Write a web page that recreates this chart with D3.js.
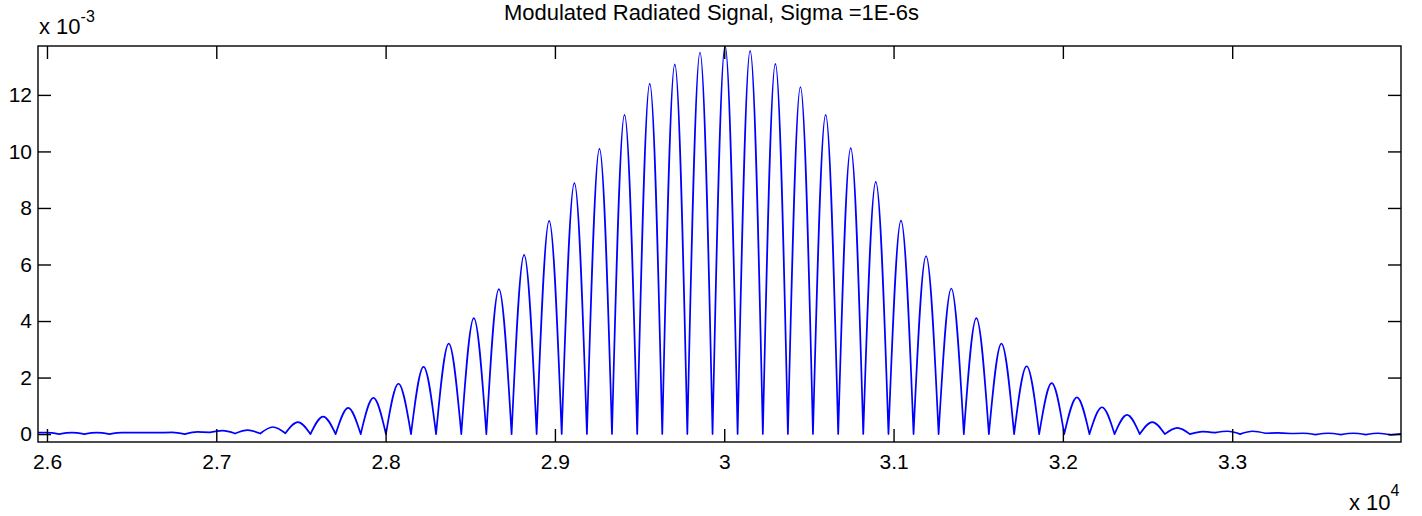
<!DOCTYPE html>
<html>
<head>
<meta charset="utf-8">
<script src="https://d3js.org/d3.v7.min.js"></script>
<style>
body { margin: 0; background: #fff; }
svg text { font-family: "Liberation Sans", Arial, sans-serif; fill: #000; }
</style>
</head>
<body>
<div id="chart"></div>
<script>
var title = 'Modulated Radiated Signal, Sigma =1E-6s';

var xTicks = [26000, 27000, 28000, 29000, 30000, 31000, 32000, 33000];
var xTickLabels = ['2.6', '2.7', '2.8', '2.9', '3', '3.1', '3.2', '3.3'];
var yTicks = [0, 2, 4, 6, 8, 10, 12];
var yTickLabels = ['0', '2', '4', '6', '8', '10', '12'];

// valleys between lobes (x, value in 1e-3)
var dipX = [25947, 26072, 26221, 26369, 26518, 26666, 26814, 26963, 27111, 27260, 27408,
	27556, 27705, 27853, 28002, 28150, 28298, 28447, 28595, 28744, 28892, 29040, 29189,
	29337, 29486, 29634, 29782, 29931, 30079, 30228, 30376, 30524, 30673, 30821, 30970,
	31118, 31266, 31415, 31563, 31712, 31860, 32008, 32157, 32305, 32454, 32602, 32750,
	32899, 33047, 33196, 33344, 33492, 33641, 33789, 33938];
var dipY = [0.05, 0, 0, 0, 0.05, 0.05, 0, 0.06, 0.02, 0.02, 0.03,
	0, 0, 0, 0, 0, 0, 0, 0, 0, 0, 0, 0,
	0, 0, 0, 0, 0, 0, 0, 0, 0, 0, 0, 0,
	0, 0, 0, 0, 0, 0, 0, 0, 0, 0, 0, 0,
	0.05, 0, 0.03, 0.02, -0.02, -0.02, -0.02, -0.03];

// lobe tops (x, value in 1e-3)
var peakX = [25998, 26147, 26295, 26444, 26592, 26740, 26889, 27037, 27186, 27334, 27482,
	27631, 27779, 27928, 28076, 28224, 28373, 28521, 28669, 28818, 28966, 29115, 29263,
	29411, 29560, 29708, 29857, 30005, 30153, 30302, 30450, 30599, 30747, 30895, 31044,
	31192, 31341, 31489, 31637, 31786, 31934, 32083, 32231, 32379, 32528, 32676, 32825,
	32973, 33121, 33270, 33418, 33567, 33715, 33863, 33997];
var peakY = [0.05, 0.05, 0.05, 0.05, 0.05, 0.06, 0.08, 0.12, 0.14, 0.25, 0.42,
	0.62, 0.93, 1.28, 1.78, 2.38, 3.2, 4.1, 5.13, 6.34, 7.54, 8.88, 10.09,
	11.29, 12.4, 13.08, 13.5, 13.73, 13.56, 13.1, 12.28, 11.29, 10.12, 8.92, 7.55,
	6.3, 5.15, 4.1, 3.2, 2.4, 1.8, 1.3, 0.95, 0.68, 0.42, 0.22, 0.09,
	0.1, 0.1, 0.04, 0.03, 0.03, 0.03, 0.03, 0.01];

var w = 1422;
var h = 516;
var axL = 38, axR = 1401, axT = 46, axB = 442;
var tick = 13;

var svg = d3.select('#chart').append('svg').attr('width', w).attr('height', h);

var x = d3.scaleLinear().domain([25947, 33997]).range([axL, axR]);
var y = d3.scaleLinear().domain([-0.28, 13.73]).range([axB, axT]);

svg.append('defs').append('clipPath').attr('id', 'plot')
	.append('rect').attr('x', axL).attr('y', axT).attr('width', axR - axL).attr('height', axB - axT);

// signal, one arch per lobe
var lobe = d3.line()
	.x(function(d) { return x(d[0]); })
	.y(function(d) { return y(d[1]); })
	.curve(d3.curveMonotoneX);

var path = '';
for (var i = 0; i < peakX.length; i++) {
	var pts = [[dipX[i], dipY[i]], [peakX[i], peakY[i]]];
	if (i + 1 < dipX.length) pts.push([dipX[i + 1], dipY[i + 1]]);
	path += lobe(pts);
}

svg.append('path')
	.attr('d', path)
	.attr('clip-path', 'url(#plot)')
	.attr('fill', 'none')
	.attr('stroke', '#0000ff')
	.attr('stroke-width', 1.7)
	.attr('stroke-linecap', 'round')
	.attr('stroke-linejoin', 'round');

// axes, ticks drawn inward like the original
function style(g) {
	g.select('.domain').remove();
	g.selectAll('.tick line').attr('stroke', '#000').attr('stroke-width', 1.4);
	g.selectAll('.tick text').attr('font-size', '21px').attr('fill', '#000');
}

svg.append('g').attr('transform', 'translate(0,' + axB + ')')
	.call(d3.axisBottom(x).tickValues(xTicks)
		.tickFormat(function(d, i) { return xTickLabels[i]; })
		.tickSizeInner(-tick).tickSizeOuter(0).tickPadding(12))
	.call(style);

svg.append('g').attr('transform', 'translate(0,' + axT + ')')
	.call(d3.axisTop(x).tickValues(xTicks).tickFormat('').tickSizeInner(-tick).tickSizeOuter(0))
	.call(style);

svg.append('g').attr('transform', 'translate(' + axL + ',0)')
	.call(d3.axisLeft(y).tickValues(yTicks)
		.tickFormat(function(d, i) { return yTickLabels[i]; })
		.tickSizeInner(-tick).tickSizeOuter(0).tickPadding(6))
	.call(style);

svg.append('g').attr('transform', 'translate(' + axR + ',0)')
	.call(d3.axisRight(y).tickValues(yTicks).tickFormat('').tickSizeInner(-tick).tickSizeOuter(0))
	.call(style);

svg.append('rect')
	.attr('x', axL).attr('y', axT)
	.attr('width', axR - axL).attr('height', axB - axT)
	.attr('fill', 'none').attr('stroke', '#000').attr('stroke-width', 1.4);

// title and exponent labels
svg.append('text')
	.attr('x', (axL + axR) / 2 - 8).attr('y', 20)
	.attr('text-anchor', 'middle').attr('font-size', '22px')
	.text(title);

var ex = svg.append('text').attr('x', 39).attr('y', 34).attr('font-size', '22px');
ex.append('tspan').text('x 10');
ex.append('tspan').attr('dy', -12).attr('font-size', '16px').text('-3');

var ex2 = svg.append('text').attr('x', 1349).attr('y', 510).attr('font-size', '22px');
ex2.append('tspan').text('x 10');
ex2.append('tspan').attr('dy', -14).attr('font-size', '16px').text('4');
</script>
</body>
</html>
